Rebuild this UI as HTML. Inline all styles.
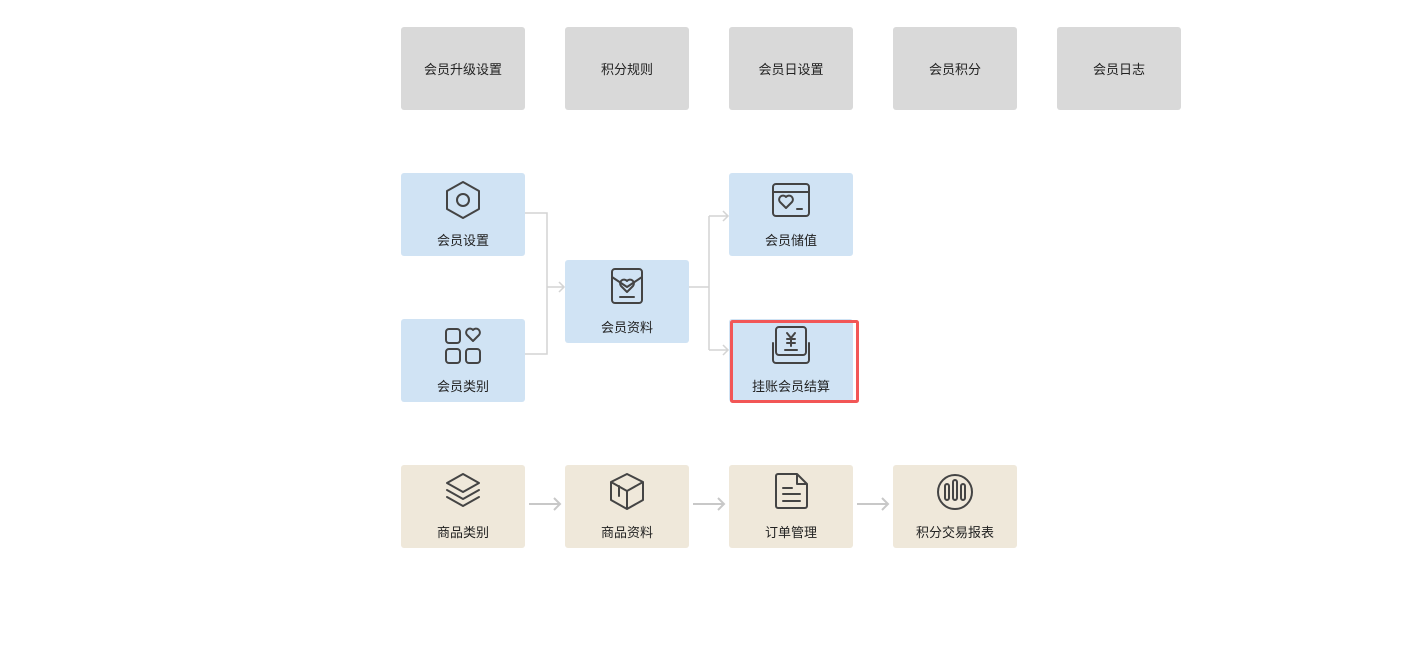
<!DOCTYPE html>
<html><head><meta charset="utf-8"><style>
html,body{margin:0;padding:0;background:#fff;width:1421px;height:668px;overflow:hidden}
text{font-family:"Liberation Sans","Noto Sans CJK SC",sans-serif;font-size:13px;fill:#222;text-anchor:middle}
.ic{fill:none;stroke:#444;stroke-width:2;stroke-linecap:round;stroke-linejoin:round}
.ln{fill:none;stroke:#d4d4d4;stroke-width:1.5}
.ar{fill:none;stroke:#c8c8c8;stroke-width:2}
</style></head><body>
<svg width="1421" height="668" xmlns="http://www.w3.org/2000/svg">
<g fill="#d9d9d9">
<rect x="401" y="27" width="124" height="83" rx="3"/>
<rect x="565" y="27" width="124" height="83" rx="3"/>
<rect x="729" y="27" width="124" height="83" rx="3"/>
<rect x="893" y="27" width="124" height="83" rx="3"/>
<rect x="1057" y="27" width="124" height="83" rx="3"/>
</g>
<text x="463" y="74">会员升级设置</text>
<text x="627" y="74">积分规则</text>
<text x="791" y="74">会员日设置</text>
<text x="955" y="74">会员积分</text>
<text x="1119" y="74">会员日志</text>

<path class="ln" d="M525 213H547V354H525M547 287H564M559 282L564 287L559 292"/>
<path class="ln" d="M689 287H709M709 216V350M709 216H728M709 350H728M723 211L728 216L723 221M723 345L728 350L723 355"/>

<g fill="#d0e3f4">
<rect x="401" y="173" width="124" height="83" rx="3"/>
<rect x="401" y="319" width="124" height="83" rx="3"/>
<rect x="565" y="260" width="124" height="83" rx="3"/>
<rect x="729" y="173" width="124" height="83" rx="3"/>
<rect x="729" y="319" width="124" height="83" rx="3"/>
</g>
<text x="463" y="245">会员设置</text>
<text x="463" y="391">会员类别</text>
<text x="627" y="332">会员资料</text>
<text x="791" y="245">会员储值</text>
<text x="791" y="391">挂账会员结算</text>
<polygon class="ic" points="463,182 479,191 479,209 463,218 447,209 447,191"/>
<circle class="ic" cx="463" cy="200" r="6"/>
<rect class="ic" x="446" y="329" width="14" height="14" rx="3"/>
<rect class="ic" x="446" y="349" width="14" height="14" rx="3"/>
<rect class="ic" x="466" y="349" width="14" height="14" rx="3"/>
<path class="ic" d="M473 341L467 335A3.5 3.5 0 0 1 473 330A3.5 3.5 0 0 1 479 335Z"/>
<rect class="ic" x="612" y="269" width="30" height="34" rx="3"/>
<path class="ic" d="M612 277L627 287L642 277M627 292L621 286A3.5 3.5 0 0 1 627 281A3.5 3.5 0 0 1 633 286ZM620 297H634"/>
<rect class="ic" x="773" y="184" width="36" height="32" rx="3"/>
<path class="ic" d="M773 192H809M786 208L780 202A3.5 3.5 0 0 1 786 197A3.5 3.5 0 0 1 792 202ZM797 209H802"/>
<rect class="ic" x="776" y="327" width="30" height="28" rx="3"/>
<path class="ic" d="M773 343V360A3 3 0 0 0 776 363H806A3 3 0 0 0 809 360V343M787 333L791 338L795 333M791 338V346M787 339H795M787 343H795M785 350H797"/>
<rect x="731.5" y="321.5" width="126" height="80" fill="none" stroke="#f25656" stroke-width="3" rx="1"/>

<g fill="#efe8da">
<rect x="401" y="465" width="124" height="83" rx="3"/>
<rect x="565" y="465" width="124" height="83" rx="3"/>
<rect x="729" y="465" width="124" height="83" rx="3"/>
<rect x="893" y="465" width="124" height="83" rx="3"/>
</g>
<path class="ar" d="M529 504H560M554 498L560 504L554 510M693 504H724M718 498L724 504L718 510M857 504H888M882 498L888 504L882 510"/>
<text x="463" y="537">商品类别</text>
<text x="627" y="537">商品资料</text>
<text x="791" y="537">订单管理</text>
<text x="955" y="537">积分交易报表</text>
<path class="ic" d="M463 474L479 483L463 492L447 483ZM447 490L463 499L479 490M447 497L463 506L479 497"/>
<path class="ic" d="M627 474L643 482V500L627 509L611 500V482ZM611 482L627 491L643 482M627 491V509M619 486V496"/>
<path class="ic" d="M778 474H797L807 484V506A2 2 0 0 1 805 508H778A2 2 0 0 1 776 506V476A2 2 0 0 1 778 474ZM797 474V484H807M783 488H792M783 494H800M783 501H800"/>
<circle class="ic" cx="955" cy="492" r="17"/>
<rect class="ic" x="945" y="484" width="4" height="16" rx="2"/>
<rect class="ic" x="953" y="480" width="4" height="20" rx="2"/>
<rect class="ic" x="961" y="484" width="4" height="16" rx="2"/>
</svg>
</body></html>
